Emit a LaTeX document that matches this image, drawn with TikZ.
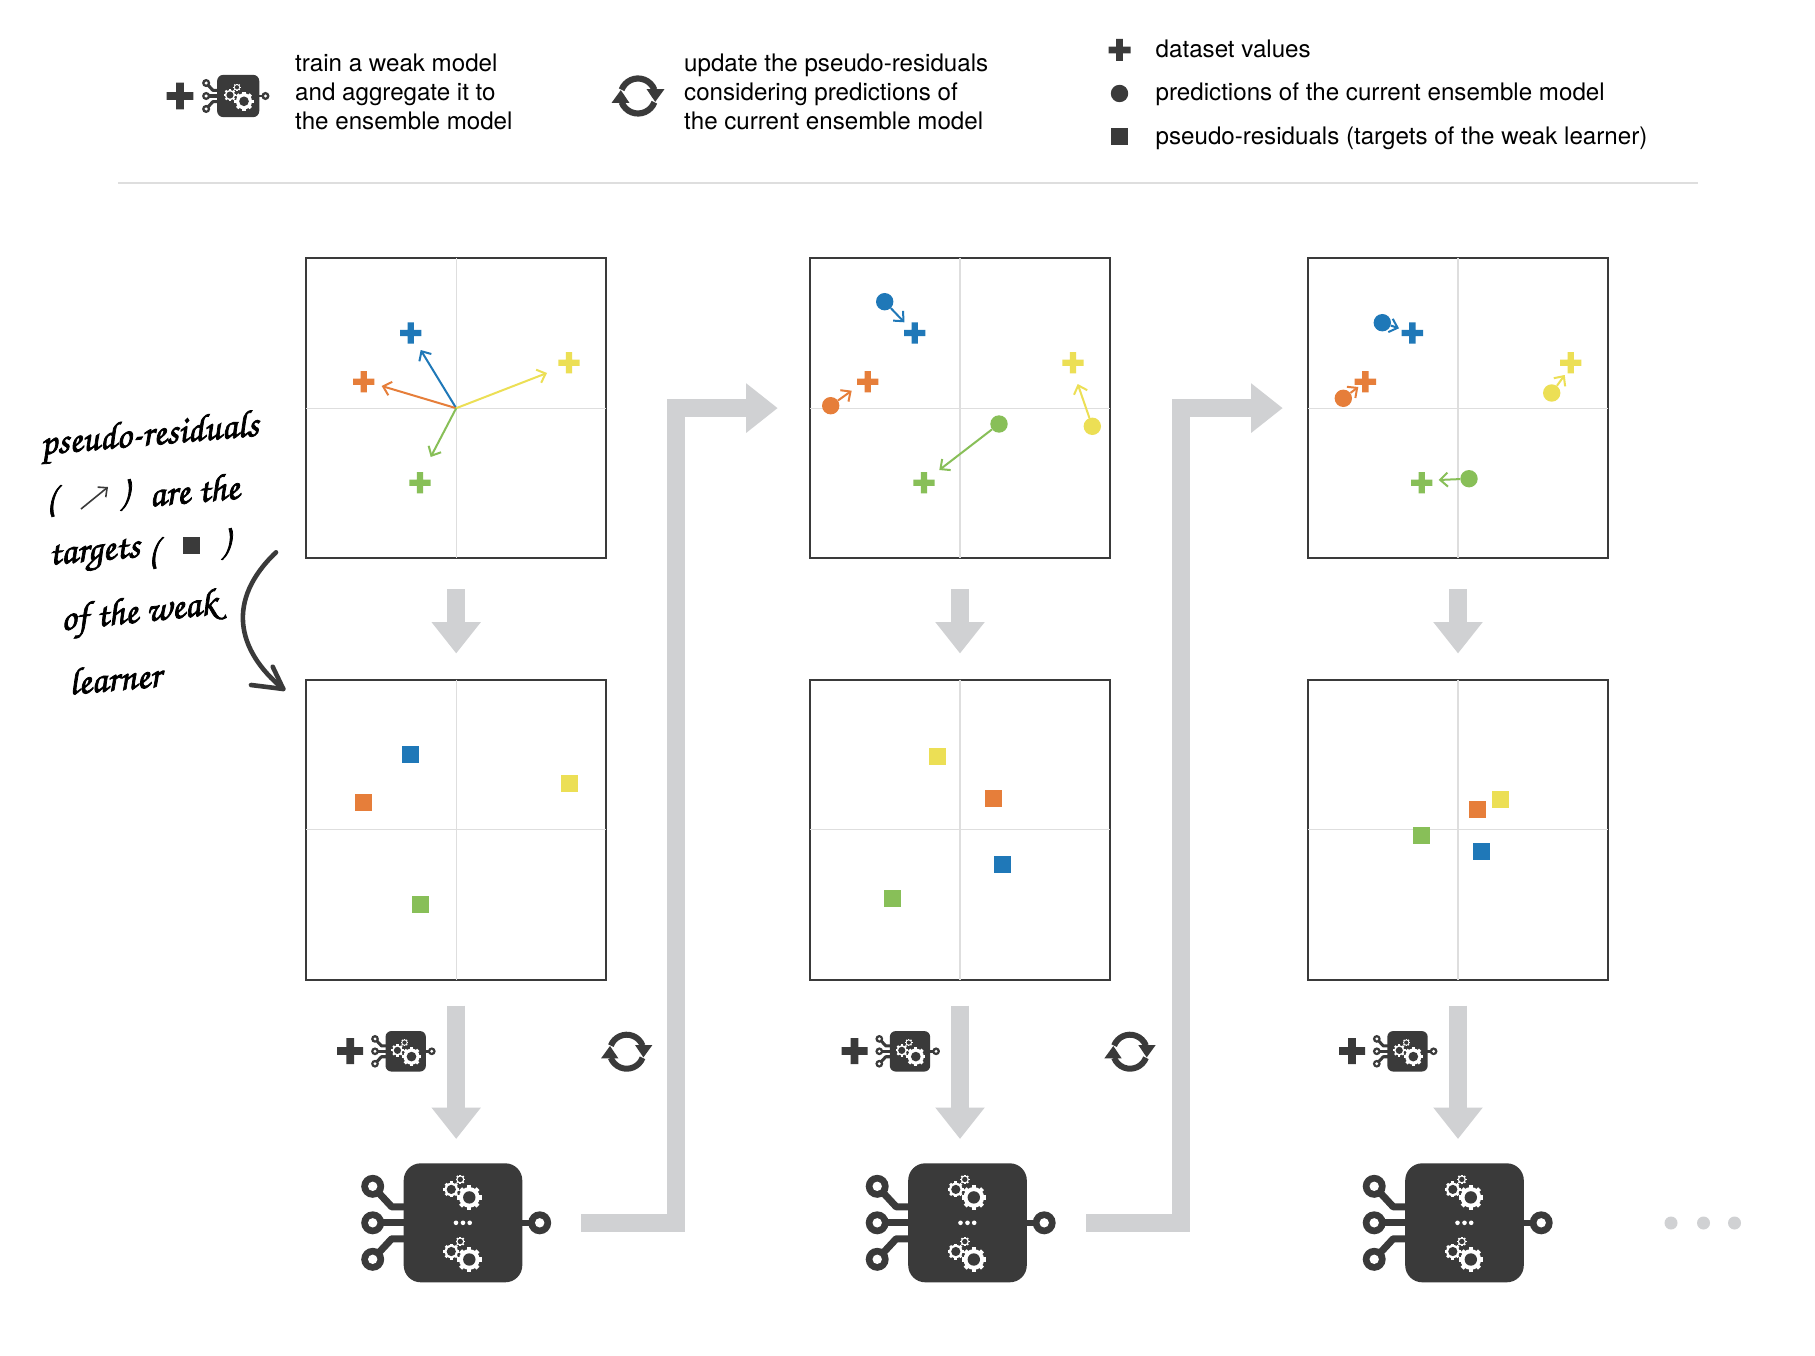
\documentclass[tikz,border=0pt]{standalone}
\usepackage{fontspec}
\setmainfont{TeX Gyre Heros}
\newfontfamily\handfont[FakeBold=2]{TeX Gyre Chorus}
\usetikzlibrary{arrows.meta}
\definecolor{dk}{HTML}{3A3A3A}
\definecolor{gr}{HTML}{D0D1D3}
\definecolor{ax}{HTML}{DEDEDE}
\definecolor{cb}{HTML}{1F78B8}
\definecolor{co}{HTML}{E67E3A}
\definecolor{cy}{HTML}{ECDF55}
\definecolor{cg}{HTML}{88BF58}
\tikzset{
  panel/.style={draw=dk,line width=2pt,minimum size=300pt,inner sep=0pt},
  axisline/.style={draw=ax,line width=1.3pt},
  dotmark/.style={circle,inner sep=0pt,minimum size=17.4pt},
  sqmark/.style={rectangle,inner sep=0pt,minimum size=17pt},
  resid/.style={line width=2pt,-{Straight Barb[length=7.5pt,width=14pt,line width=2pt]}},
  bigarrow/.style={draw=gr,line width=17.6pt,line join=miter,-{Triangle[length=31.5pt,width=47.4pt,fill=gr]}},
  legendtext/.style={font=\fontsize{24.15}{28.6}\selectfont,align=left,anchor=base west,inner sep=0pt,text=black},
  hand/.style={font=\handfont\fontsize{38}{38}\selectfont,inner sep=0pt,text=black}
}
% gear: #1 radius, #2 hole
\newcommand\gearmark[2]{%
  \foreach \a in {0,45,90,135}{\fill[white,rotate=\a] (-0.17*#1,-#1) rectangle (0.17*#1,#1);}
  \fill[white] (0,0) circle ({0.84*#1});
  \fill[dk] (0,0) circle (#2);}
\newcommand\gearset{%
  \gearmark{12.3}{6.2}
  \begin{scope}[shift={(-18,-8)}]\gearmark{8}{4.6}\end{scope}
  \begin{scope}[shift={(-9,-18)}]\gearmark{4.8}{2.7}\end{scope}}
% chip body at scale #1
\newcommand\chipbody[1]{%
  \foreach \yy/\yb in {-36.5/-16,36.5/16}{\draw[dk,line width={6.2pt*#1+0.9pt},line join=round] (-90.3,\yy) -- (-71.3,\yb) -- (-55,\yb);}
  \draw[dk,line width={6.2pt*#1+0.9pt}] (-90.3,0) -- (-55,0);
  \draw[dk,line width={5.2pt*#1+0.9pt}] (55,0) -- (76.7,0);
  \foreach \px/\py in {-90.3/-36.5,-90.3/0,-90.3/36.5,76.7/0}{
    \fill[dk] (\px,\py) circle (11.5);
    \fill[white] (\px,\py) circle (4.7);}
  \fill[dk,rounded corners={17pt*#1}] (-59.3,-59.5) rectangle (59.3,59.5);}
\newcommand\bigchip[2]{%
  \begin{scope}[shift={(#1,#2)}]
    \chipbody{1}
    \begin{scope}[shift={(6.3,-25.4)}]\gearset\end{scope}
    \begin{scope}[shift={(6.3,36.7)}]\gearset\end{scope}
    \foreach \dx in {-7,0,6.7}{\fill[white] (\dx,0) circle (2.3);}
  \end{scope}}
\newcommand\smallchip[3]{% x y scale
  \begin{scope}[shift={(#1,#2)}]
    \begin{scope}[scale=#3]\chipbody{#3}\end{scope}
    \begin{scope}[shift={(5.8,5.3)},scale=0.78]\gearset\end{scope}
  \end{scope}}
\newcommand\plusat[5]{% x y colour half thick/2
  \fill[#3,shift={(#1,#2)}] (-#4,-#5) rectangle (#4,#5) (-#5,-#4) rectangle (#5,#4);}
\newcommand\refresh[3]{% x y scale
  \begin{scope}[shift={(#1,#2)},scale=#3]
    \draw[dk,line width={6pt*#3}] (-159:17) arc[start angle=-159,end angle=-21,radius=17];
    \draw[dk,line width={6pt*#3}] (21:17) arc[start angle=21,end angle=159,radius=17];
    \fill[dk] (8.3,-6.7) -- (25.7,-6.7) -- (16.7,5.7) -- cycle;
    \fill[dk] (-8.3,6.7) -- (-25.7,6.7) -- (-16.7,-5.7) -- cycle;
  \end{scope}}
% one panel: name x y
\newcommand\panelbox[3]{%
  \node[panel] (#1) at (#2,#3) {};
  \draw[axisline,shorten <=1pt,shorten >=1pt] (#1.north) -- (#1.south);
  \draw[axisline,shorten <=1pt,shorten >=1pt] (#1.west) -- (#1.east);}
\newcommand\predarrow[8]{% id colour dotx doty endx endy plusx plusy
  \plusat{#7}{#8}{#2}{10.7}{3.2}
  \node[dotmark,fill=#2] (d#1) at (#3,#4) {};
  \coordinate (e#1) at (#5,#6);
  \draw[resid,#2] (d#1) -- (e#1);}
\begin{document}
\begin{tikzpicture}[x=1pt,y=-1pt]
\useasboundingbox (0,0) rectangle (1815,1356);
\fill[white] (0,0) rectangle (1815,1356);
% legend
\plusat{180}{96}{dk}{13.3}{3.9}
\smallchip{238.2}{96}{0.355}
\node[legendtext] (l1) at (295,129.2) {train a weak model\\and aggregate it to\\the ensemble model};
\refresh{638}{96}{1.03}
\node[legendtext] (l2) at (684,129.2) {update the pseudo-residuals\\considering predictions of\\the current ensemble model};
\plusat{1119.5}{50}{dk}{11}{3.4}
\node[dotmark,fill=dk] (ldot) at (1119.5,93.5) {};
\node[sqmark,fill=dk] (lsq) at (1119.5,136.5) {};
\node[legendtext] (l3) at (1155.5,57.5) {dataset values};
\node[legendtext] (l4) at (1155.5,100.5) {predictions of the current ensemble model};
\node[legendtext] (l5) at (1155.5,144.5) {pseudo-residuals (targets of the weak learner)};
\coordinate (hrA) at (118,183);\coordinate (hrB) at (1698,183);
\draw[ax,line width=1.2pt] (hrA) -- (hrB);
% panels
\panelbox{p11}{456.2}{408.2}
\panelbox{p12}{960}{408.2}
\panelbox{p13}{1458}{408.2}
\panelbox{p21}{456.2}{829.5}
\panelbox{p22}{960}{829.5}
\panelbox{p23}{1458}{829.5}
% panel 1
\plusat{410.7}{333}{cb}{10.7}{3.2}
\plusat{363.7}{381.7}{co}{10.7}{3.2}
\plusat{569}{362.7}{cy}{10.7}{3.2}
\plusat{420}{482.7}{cg}{10.7}{3.2}
\coordinate (e1b) at (420.7,350);\coordinate (e1o) at (381.7,386);
\coordinate (e1y) at (547,373);\coordinate (e1g) at (430.7,457);
\draw[resid,cb] (p11.center) -- (e1b);
\draw[resid,co] (p11.center) -- (e1o);
\draw[resid,cy] (p11.center) -- (e1y);
\draw[resid,cg] (p11.center) -- (e1g);
% panel 2
\predarrow{2b}{cb}{884.7}{301.7}{904.3}{322.3}{914.7}{333}
\predarrow{2o}{co}{830.7}{405.7}{851.7}{390.7}{867.7}{381.7}
\predarrow{2g}{cg}{999}{424}{939.3}{470}{924}{482.7}
\predarrow{2y}{cy}{1092.3}{426.3}{1077.7}{384}{1073}{362.7}
% panel 3
\predarrow{3b}{cb}{1382.3}{322.7}{1399}{328.3}{1412.3}{333}
\predarrow{3o}{co}{1343.3}{398.3}{1358.3}{387}{1365.3}{381.7}
\predarrow{3g}{cg}{1469}{478.7}{1438.7}{480}{1421.7}{482.7}
\predarrow{3y}{cy}{1551.7}{393}{1564.7}{375}{1570.7}{362.7}
% squares
\node[sqmark,fill=cb] (s1b) at (410.7,754.3) {};
\node[sqmark,fill=co] (s1o) at (363.7,802.7) {};
\node[sqmark,fill=cy] (s1y) at (569,783.7) {};
\node[sqmark,fill=cg] (s1g) at (420,904) {};
\node[sqmark,fill=cy] (s2y) at (937,756) {};
\node[sqmark,fill=co] (s2o) at (993,798.7) {};
\node[sqmark,fill=cb] (s2b) at (1002,864) {};
\node[sqmark,fill=cg] (s2g) at (892,898.3) {};
\node[sqmark,fill=co] (s3o) at (1477.3,809) {};
\node[sqmark,fill=cy] (s3y) at (1500.3,799.7) {};
\node[sqmark,fill=cg] (s3g) at (1421.7,835) {};
\node[sqmark,fill=cb] (s3b) at (1481.7,851.3) {};
% grey down arrows
\foreach \c in {1,2,3}{
  \draw[bigarrow] ([yshift=-30pt]p1\c.south) -- ([yshift=25pt]p2\c.north);
  \draw[bigarrow] ([yshift=-25pt]p2\c.south) -- ([yshift=-158.5pt]p2\c.south);
}
% chips and training icons
\bigchip{463}{1222.8}
\bigchip{967.5}{1222.8}
\bigchip{1464.5}{1222.8}
\foreach \cx in {456.2,960.5,1458}{
  \plusat{\cx-106}{1051}{dk}{13}{3.8}
  \smallchip{\cx-50.5}{1051.3}{0.34}
}
\refresh{626.7}{1051.7}{1}
\refresh{1130}{1051.7}{1}
% L arrows
\foreach \o/\n in {0/a,505/b}{
  \coordinate (L\n1) at (581+\o,1222.85);
  \coordinate (L\n2) at (675.8+\o,1222.85);
  \coordinate (L\n3) at (675.8+\o,408.1);
  \coordinate (L\n4) at (777.7+\o,408.1);
  \draw[bigarrow] (L\n1) -- (L\n2) -- (L\n3) -- (L\n4);
}
% trailing dots
\foreach \dx in {1671,1703.5,1734.5}{\fill[gr] (\dx,1223) circle (6.5);}
% handwriting
\node[hand,rotate=5] (h1) at (149.5,437) {pseudo-residuals};
\node[hand] (h2a) at (51,501) {(};
\coordinate (hsA) at (81,509);\coordinate (hsB) at (108,487);
\draw[dk,line width=1.6pt,-{Straight Barb[length=7pt,width=13pt,line width=1.6pt]}] (hsA) -- (hsB);
\node[hand] (h2b) at (124,495) {)};
\node[hand,rotate=5] (h2c) at (194,490) {are the};
\node[hand,rotate=5] (h3a) at (94.5,556) {targets};
\node[hand] (h3b) at (153,553) {(};
\node[sqmark,fill=dk] (h3s) at (191.7,545.7) {};
\node[hand] (h3c) at (225,544) {)};
\node[hand,rotate=6] (h4) at (139,614) {of the weak};
\node[hand,rotate=5] (h5) at (114.7,678) {learner};
\coordinate (ca) at (276,552.3);\coordinate (cb1) at (226,600);\coordinate (cb2) at (236,650);\coordinate (cc) at (283.3,689);
\coordinate (bar1) at (251,685);\coordinate (bar2) at (272.7,666.7);
\draw[dk,line width=4.6pt,line cap=round] (ca) .. controls (cb1) and (cb2) .. (cc);
\draw[dk,line width=4.6pt,line cap=round,line join=round] (bar1) -- (cc) -- (bar2);
\end{tikzpicture}
\end{document}
